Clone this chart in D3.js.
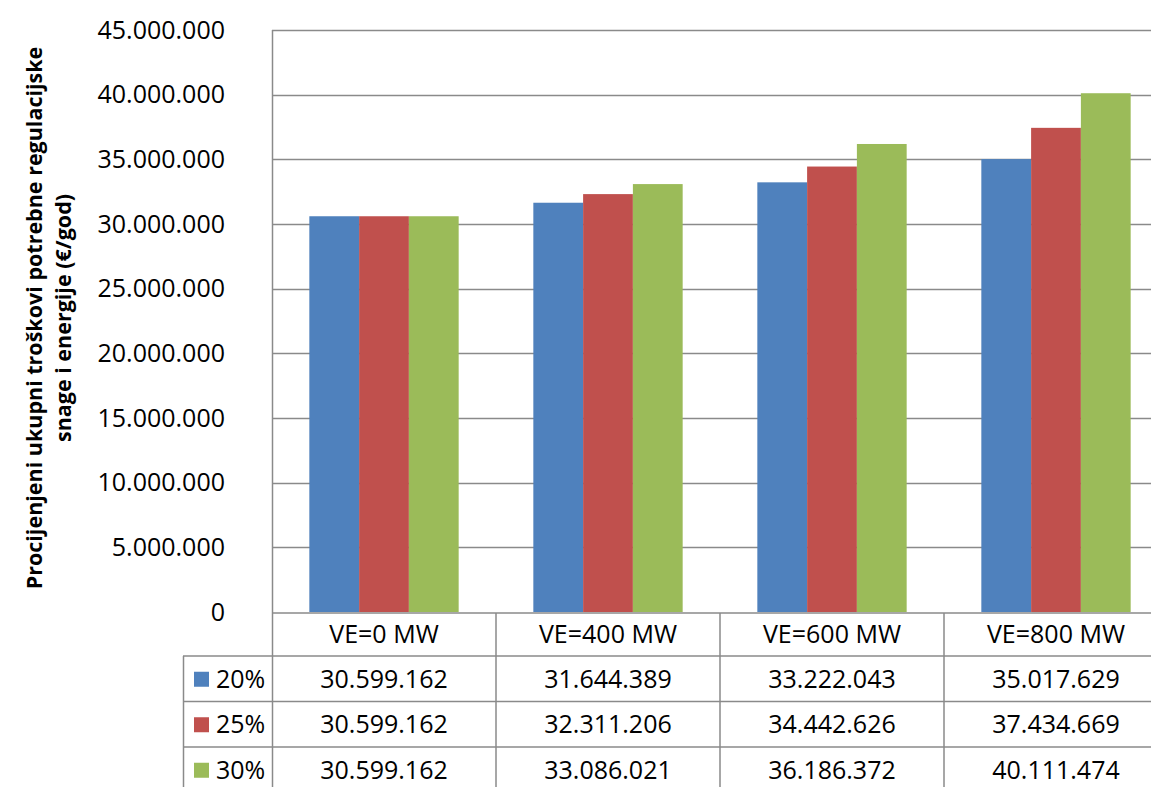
<!DOCTYPE html>
<html>
<head>
<meta charset="utf-8">
<script src="https://cdn.jsdelivr.net/npm/d3@7"></script>
<style>
  html, body { margin: 0; padding: 0; background: #fff; }
  svg { display: block; }
  text { font-family: "Open Sans", "DejaVu Sans", sans-serif; fill: #000; }
</style>
</head>
<body>
<svg id="chart" width="1151" height="787"></svg>
<script>
const categories = ["VE=0 MW", "VE=400 MW", "VE=600 MW", "VE=800 MW"];
const seriesNames = ["20%", "25%", "30%"];
const values20 = [30599162, 31644389, 33222043, 35017629];
const values25 = [30599162, 32311206, 34442626, 37434669];
const values30 = [30599162, 33086021, 36186372, 40111474];
const seriesColors = ["#4F81BD", "#C0504D", "#9BBB59"];
const yTicks = [0, 5000000, 10000000, 15000000, 20000000, 25000000, 30000000, 35000000, 40000000, 45000000];
const yTitleLines = ["Procijenjeni ukupni troškovi potrebne regulacijske", "snage i energije (€/god)"];

const seriesValues = [values20, values25, values30];

const svg = d3.select("#chart");
const locale = d3.formatLocale({decimal: ",", thousands: ".", grouping: [3], currency: ["", "€"]});
const fmt = locale.format(",d");

const plot = {left: 272, right: 1168, top: 30, bottom: 612};
const gridColor = "#8a8a8a";
const fontSize = 25;

const x = d3.scaleBand().domain(categories).range([plot.left, plot.right]).padding(0);
const y = d3.scaleLinear().domain([0, 45000000]).range([plot.bottom, plot.top]);
const barW = x.bandwidth() / 4.5;
const xs = d3.scaleBand().domain(seriesNames)
  .range([0, barW * 3]);

// gridlines
svg.append("g").selectAll("line").data(yTicks.filter(d => d > 0)).join("line")
  .attr("x1", plot.left).attr("x2", plot.right)
  .attr("y1", d => Math.round(y(d)) + 0.5).attr("y2", d => Math.round(y(d)) + 0.5)
  .attr("stroke", gridColor).attr("stroke-width", 1.5);

// y axis
const yAxis = d3.axisLeft(y).tickValues(yTicks).tickFormat(d => fmt(d)).tickSize(0).tickPadding(47);
const gy = svg.append("g").attr("transform", `translate(${plot.left},0)`).call(yAxis);
gy.select(".domain").remove();
gy.selectAll("text").style("font-size", fontSize + "px").style("font-family", '"Open Sans", sans-serif').attr("fill", "#000");

// plot left border
svg.append("line").attr("x1", plot.left + 0.5).attr("x2", plot.left + 0.5)
  .attr("y1", plot.top).attr("y2", 800).attr("stroke", gridColor).attr("stroke-width", 1.5);

// bars
const groups = svg.append("g").selectAll("g").data(categories).join("g")
  .attr("transform", c => `translate(${x(c) + (x.bandwidth() - barW * 3) / 2},0)`);
groups.selectAll("rect").data((c, i) => seriesNames.map((s, j) => ({s, v: seriesValues[j][i], j})))
  .join("rect")
  .attr("x", d => xs(d.s))
  .attr("width", xs.bandwidth())
  .attr("y", d => y(d.v))
  .attr("height", d => y(0) - y(d.v))
  .attr("fill", d => seriesColors[d.j]);

// data table
const rowTop = plot.bottom + 1;
const catRowH = 43;
const rowH = 45.5;
const legendLeft = 183;
const rowsTop = rowTop + catRowH;

// horizontal lines
svg.append("line").attr("x1", plot.left).attr("x2", plot.right)
  .attr("y1", rowTop).attr("y2", rowTop).attr("stroke", gridColor).attr("stroke-width", 1.5);
seriesNames.forEach((s, j) => {
  const yy = rowsTop + j * rowH;
  svg.append("line").attr("x1", legendLeft).attr("x2", plot.right)
    .attr("y1", yy).attr("y2", yy).attr("stroke", gridColor).attr("stroke-width", 1.5);
});
svg.append("line").attr("x1", legendLeft).attr("x2", plot.right)
  .attr("y1", rowsTop + 3 * rowH).attr("y2", rowsTop + 3 * rowH).attr("stroke", gridColor).attr("stroke-width", 1.5);
// vertical lines
svg.append("line").attr("x1", legendLeft + 0.5).attr("x2", legendLeft + 0.5)
  .attr("y1", rowsTop).attr("y2", rowsTop + 3 * rowH).attr("stroke", gridColor).attr("stroke-width", 1.5);
categories.forEach(c => {
  const xx = x(c) + x.bandwidth();
  svg.append("line").attr("x1", xx).attr("x2", xx)
    .attr("y1", rowTop).attr("y2", rowsTop + 3 * rowH).attr("stroke", gridColor).attr("stroke-width", 1.5);
});

// category labels
svg.append("g").selectAll("text").data(categories).join("text")
  .attr("x", c => x(c) + x.bandwidth() / 2)
  .attr("y", rowTop + catRowH / 2)
  .attr("dy", "0.35em")
  .attr("text-anchor", "middle")
  .style("font-size", fontSize + "px")
  .text(c => c);

// value rows
seriesNames.forEach((s, j) => {
  const cy = rowsTop + j * rowH + rowH / 2;
  svg.append("rect").attr("x", 194).attr("y", cy - 7).attr("width", 15).attr("height", 15)
    .attr("fill", seriesColors[j]);
  svg.append("text").attr("x", 216).attr("y", cy).attr("dy", "0.35em")
    .style("font-size", fontSize + "px").text(s);
  svg.append("g").selectAll("text").data(categories).join("text")
    .attr("x", c => x(c) + x.bandwidth() / 2)
    .attr("y", cy).attr("dy", "0.35em")
    .attr("text-anchor", "middle")
    .style("font-size", fontSize + "px")
    .text((c, i) => fmt(seriesValues[j][i]));
});

// y title
const title = svg.append("text")
  .attr("transform", `translate(48,318) rotate(-90)`)
  .attr("text-anchor", "middle")
  .style("font-size", "21.5px").style("font-weight", "bold");
title.selectAll("tspan").data(yTitleLines).join("tspan")
  .attr("x", 0).attr("dy", (d, i) => i === 0 ? "-0.3em" : "1.35em")
  .text(d => d);
</script>
</body>
</html>
